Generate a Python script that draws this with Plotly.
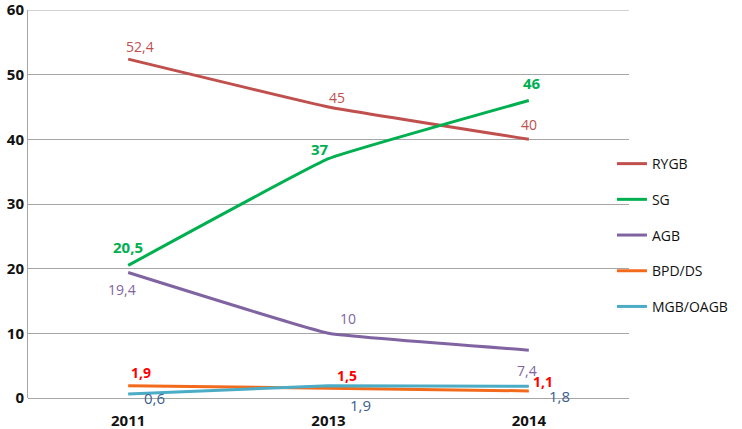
import plotly.graph_objects as go

years = ["2011", "2013", "2014"]
series_names = ["RYGB", "SG", "AGB", "BPD/DS", "MGB/OAGB"]
rygb = [52.4, 45, 40]
sg = [20.5, 37, 46]
agb = [19.4, 10, 7.4]
bpd = [1.9, 1.5, 1.1]
mgb = [0.6, 1.9, 1.8]
values = [rygb, sg, agb, bpd, mgb]

line_colors = ["#C0504D", "#00B050", "#8064A2", "#F26B1D", "#4BACC6"]
label_colors = ["#C0504D", "#00B050", "#8064A2", "#FF0000", "#3B5E8C"]
label_bold = [False, True, False, True, False]
label_size = [14, 15, 14, 14, 15]
# label offsets (px) per point
offsets = [
    [(12, 13), (8, 10), (0, 15)],
    [(0, 18), (-9, 10), (3, 18)],
    [(-6, -17), (19, 15), (-2, -20)],
    [(13, 13), (18, 13), (14, 9)],
    [(26, -4), (32, -19), (31, -10)],
]

fig = go.Figure()
font_family = "Open Sans, Noto Sans, sans-serif"
for i, name in enumerate(series_names):
    fig.add_trace(go.Scatter(
        x=years, y=values[i], mode="lines", name=name,
        legendgroup=name,
        line=dict(color=line_colors[i], width=3, shape="spline", smoothing=0.25),
    ))
    for j, yr in enumerate(years):
        txt = str(values[i][j]).replace(".", ",")
        if label_bold[i]:
            txt = "<b>" + txt + "</b>"
        dx, dy = offsets[i][j]
        fig.add_annotation(x=j, y=values[i][j], xref="x", yref="y", text=txt, showarrow=False,
                           xshift=dx, yshift=dy,
                           font=dict(color=label_colors[i], size=label_size[i], family=font_family))

fig.update_layout(
    width=742, height=429,
    margin=dict(l=28, r=112, t=10, b=31),
    paper_bgcolor="white", plot_bgcolor="white",
    showlegend=True,
    legend=dict(x=0.970, xanchor="left", y=0.42, yanchor="middle",
                font=dict(size=14, family=font_family, color="#111111"),
                tracegroupgap=14.5, bgcolor="rgba(0,0,0,0)"),
    font=dict(family=font_family),
)
fig.update_xaxes(type="category", range=[-0.5, 2.5], showgrid=False, automargin=False,
                 showline=False, ticks="outside", ticklen=9, tickcolor="rgba(0,0,0,0)",
                 tickfont=dict(size=15, color="#111111", family=font_family),
                 tickprefix="<b>", ticksuffix="</b>")
fig.update_yaxes(range=[0, 60], dtick=10, showgrid=True, gridcolor="#A6A6A6", gridwidth=1,
                 automargin=False,
                 showline=True, linecolor="#A6A6A6", linewidth=1,
                 zeroline=True, zerolinecolor="#A6A6A6", zerolinewidth=1,
                 ticklabeloverflow="allow",
                 tickfont=dict(size=15, color="#111111", family=font_family),
                 tickprefix="<b>", ticksuffix="</b>", ticks="")
fig.add_shape(type="line", xref="paper", yref="y", x0=0, x1=1, y0=60, y1=60,
              line=dict(color="#A6A6A6", width=1), layer="below")

fig.write_html("out.html", config={"displayModeBar": False},
               post_script="document.body.style.margin='0';")
